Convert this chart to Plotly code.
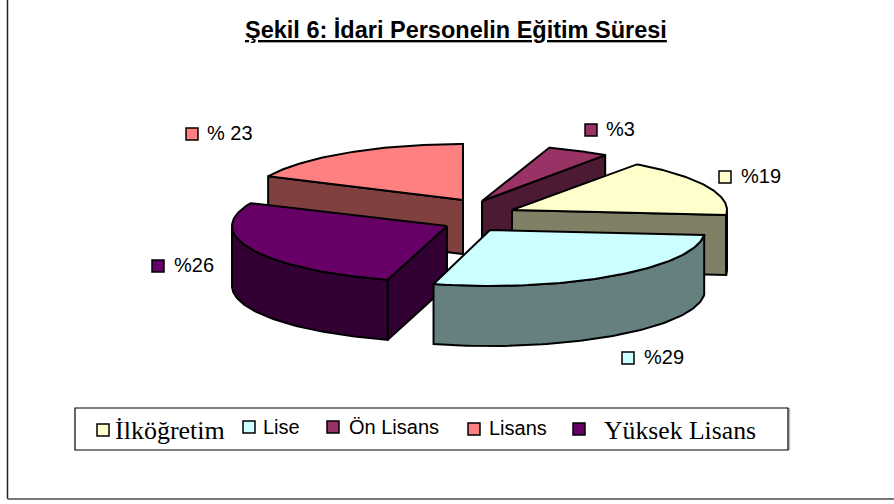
import numpy as np
import plotly.graph_objects as go

# ---- data ----
categories = ["Lisans", "Ön Lisans", "İlköğretim", "Yüksek Lisans", "Lise"]
values = [23, 3, 19, 26, 29]
value_labels = ["% 23", "%3", "%19", "%26", "%29"]
title_text = "Şekil 6: İdari Personelin Eğitim Süresi"
legend_order = ["İlköğretim", "Lise", "Ön Lisans", "Lisans", "Yüksek Lisans"]

# ---- styling / projection of the tilted, exploded pie ----
top_colors = ["#FF8080", "#993366", "#FFFFCC", "#660066", "#CCFFFF"]
side_colors = ["#804040", "#4D1A33", "#808066", "#330033", "#668080"]
start_deg = [205, 288, 305.5, 106, 5]       # where each wedge begins
stretch = [0.785, 1.57, 0.87, 1.047, 0.96]  # perspective widening of each wedge
apex_x = [463, 482, 512, 447, 490]          # exploded wedge tips
apex_y = [200, 201, 210, 226, 230]
depths = [54, 60, 60, 60, 60]
RX, RY = 215, 56

fig = go.Figure()


def poly(xs, ys, color):
    fig.add_trace(go.Scatter(
        x=list(xs) + [xs[0]], y=list(ys) + [ys[0]], mode="lines", fill="toself",
        fillcolor=color, line=dict(color="black", width=2),
        hoverinfo="skip", showlegend=False))


for v, s0, k, ax, ay, d, ctop, cside in zip(values, start_deg, stretch, apex_x, apex_y,
                                            depths, top_colors, side_colors):
    span = v * 3.6 * k
    t = np.radians(np.linspace(s0, s0 + span, 80))
    ex = ax + RX * np.cos(t)
    ey = ay + RY * np.sin(t)
    # radial faces: only those turned towards the viewer
    if np.cos(t[0]) < 0:
        poly([ax, ex[0], ex[0], ax], [ay, ey[0], ey[0] + d, ay + d], cside)
    if np.cos(t[-1]) > 0:
        poly([ax, ex[-1], ex[-1], ax], [ay, ey[-1], ey[-1] + d, ay + d], cside)
    # outer wall, only the part turned towards the viewer
    front = np.sin(t) >= 0
    if front.sum() > 1:
        fx, fy = ex[front], ey[front]
        poly(list(fx) + list(fx[::-1]), list(fy) + list(fy[::-1] + d), cside)
    # top face
    poly([ax] + list(ex), [ay] + list(ey), ctop)

shapes = []
annotations = []


def swatch(cx, cy, color, size=12):
    shapes.append(dict(type="rect", xref="x", yref="y", x0=cx - size / 2, x1=cx + size / 2,
                       y0=cy - size / 2, y1=cy + size / 2, fillcolor=color,
                       line=dict(color="black", width=1.5)))


def label(x, y, text, family="Liberation Sans", size=20, xanchor="left"):
    annotations.append(dict(xref="x", yref="y", x=x, y=y, text=text, showarrow=False,
                            xanchor=xanchor, yanchor="middle",
                            font=dict(family=family, size=size, color="black")))


# frame
shapes.append(dict(type="line", xref="x", yref="y", x0=7.5, x1=7.5, y0=0, y1=499,
                   line=dict(color="#222222", width=1.5)))
shapes.append(dict(type="line", xref="x", yref="y", x0=7.5, x1=894, y0=499, y1=499,
                   line=dict(color="#777777", width=2)))
# legend box with its faint right-hand edge
shapes.append(dict(type="line", xref="x", yref="y", x0=789.5, x1=789.5, y0=408, y1=450,
                   line=dict(color="#BBBBBB", width=1.5)))
shapes.append(dict(type="rect", xref="x", yref="y", x0=75, x1=788, y0=408, y1=450,
                   line=dict(color="black", width=1.2), fillcolor="white"))

# value labels
label_sw_x = [192, 591, 725, 158, 628]
label_sw_y = [134, 130, 177, 266, 358]
label_tx_x = [205, 604, 739, 172, 642]
for i, txt in enumerate(value_labels):
    swatch(label_sw_x[i], label_sw_y[i], top_colors[i])
    label(label_tx_x[i], label_sw_y[i] - 1, txt)

# legend entries
leg_sw_x = [103, 249, 333, 474, 579]
leg_sw_y = [430, 427, 427, 429, 429]
leg_tx_x = [113, 261, 347, 487, 602]
leg_tx_y = [430, 427, 427, 428, 430]
leg_font = ["Liberation Serif", "Liberation Sans", "Liberation Sans", "Liberation Sans", "Liberation Serif"]
leg_size = [26, 20, 20, 20, 25.7]
for i, name in enumerate(legend_order):
    color = top_colors[categories.index(name)]
    swatch(leg_sw_x[i], leg_sw_y[i], color)
    label(leg_tx_x[i], leg_tx_y[i], name, family=leg_font[i], size=leg_size[i])

# title
label(455.5, 30, "<b><u>" + title_text + "</u></b>", size=23.5, xanchor="center")

fig.update_layout(
    width=894, height=504, margin=dict(l=0, r=0, t=0, b=0),
    paper_bgcolor="white", plot_bgcolor="white", showlegend=False,
    xaxis=dict(range=[0, 894], visible=False, fixedrange=True),
    yaxis=dict(range=[504, 0], visible=False, fixedrange=True),
    shapes=shapes, annotations=annotations,
)
fig.write_html("out.html", config=dict(displayModeBar=False),
               post_script="document.body.style.margin='0';document.body.style.overflow='hidden';")
